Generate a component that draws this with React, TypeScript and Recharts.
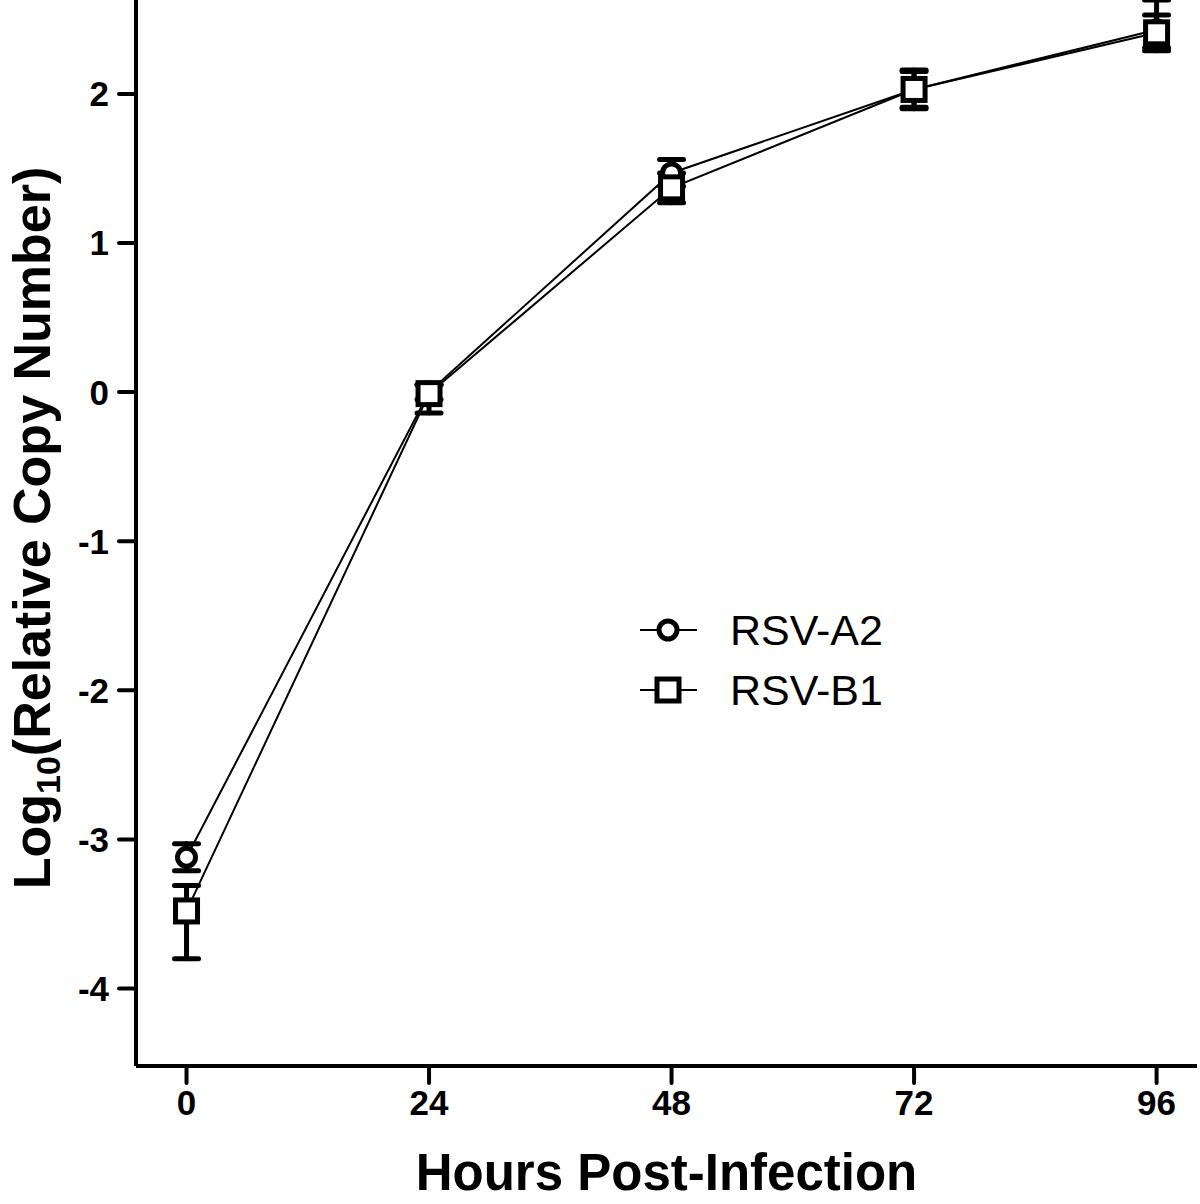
import React from 'react';
import { LineChart, Line, XAxis, YAxis, ErrorBar, Legend } from 'recharts';

const hours = [0, 24, 48, 72, 96];
const rsvA2 = [-3.12, 0.0, 1.47, 2.03, 2.43];
const rsvA2Err = [[0.09, 0.09], [0.05, 0.05], [0.09, 0.09], [0.13, 0.13], [0.12, 0.2]];
const rsvB1 = [-3.48, -0.01, 1.37, 2.03, 2.41];
const rsvB1Err = [[0.32, 0.17], [0.13, 0.06], [0.1, 0.1], [0.12, 0.12], [0.12, 0.12]];
const xTicks = [0, 24, 48, 72, 96];
const yTicks = [-4, -3, -2, -1, 0, 1, 2];

const data = hours.map((h, i) => ({
  hours: h,
  a2: rsvA2[i],
  a2Err: rsvA2Err[i],
  b1: rsvB1[i],
  b1Err: rsvB1Err[i],
}));

const FONT = '"Liberation Sans", Arial, Helvetica, sans-serif';

const CircleDot = (props: any) => {
  const { cx, cy, index } = props;
  return <circle key={`c-${index}`} cx={cx} cy={cy} r={9} fill="#fff" stroke="#000" strokeWidth={5} />;
};

const SquareDot = (props: any) => {
  const { cx, cy, index } = props;
  return (
    <rect key={`s-${index}`} x={cx - 11} y={cy - 11} width={22} height={22} fill="#fff" stroke="#000" strokeWidth={5} />
  );
};

const LegendBox = () => (
  <svg width={300} height={120}>
    {/* RSV-A2 */}
    <line x1={0} y1={30} x2={57} y2={30} stroke="#000" strokeWidth={2} />
    <circle cx={28} cy={30} r={9} fill="#fff" stroke="#000" strokeWidth={5} />
    <text x={90} y={30} dy="0.36em" fontFamily={FONT} fontSize={43} fill="#000">RSV-A2</text>
    {/* RSV-B1 */}
    <line x1={0} y1={90} x2={57} y2={90} stroke="#000" strokeWidth={2} />
    <rect x={17} y={79} width={22} height={22} fill="#fff" stroke="#000" strokeWidth={5} />
    <text x={90} y={90} dy="0.36em" fontFamily={FONT} fontSize={43} fill="#000">RSV-B1</text>
  </svg>
);

const YTitle = () => (
  <text
    transform="translate(50, 528) rotate(-90)"
    textAnchor="middle"
    fontFamily={FONT}
    fontWeight="bold"
    fontSize={52}
    fill="#000"
  >
    Log<tspan fontSize={34} dy={10}>10</tspan>
    <tspan dy={-10}>(Relative Copy Number)</tspan>
  </text>
);

export default function App() {
  return (
    <div style={{ position: 'absolute', left: 0, top: 0, width: 1200, height: 1204, background: '#fff' }}>
      <LineChart width={1200} height={1204} data={data} margin={{ top: 0, right: 3, bottom: 0, left: 0 }}>
        <XAxis
          dataKey="hours"
          type="number"
          domain={[-5, 100]}
          ticks={xTicks}
          height={138}
          axisLine={{ stroke: '#000', strokeWidth: 4 }}
          tickLine={{ stroke: '#000', strokeWidth: 4, strokeLinecap: 'round' }}
          tickSize={17}
          tickMargin={7}
          tick={{ fill: '#000', fontFamily: FONT, fontWeight: 'bold', fontSize: 35 }}
          label={{
            value: 'Hours Post-Infection',
            position: 'insideBottom',
            offset: 14,
            fill: '#000',
            fontFamily: FONT,
            fontWeight: 'bold',
            fontSize: 51,
          }}
        />
        <YAxis
          type="number"
          domain={[-4.52, 2.62]}
          ticks={yTicks}
          width={136}
          axisLine={{ stroke: '#000', strokeWidth: 4 }}
          tickLine={{ stroke: '#000', strokeWidth: 4, strokeLinecap: 'round' }}
          tickSize={17}
          tickMargin={10}
          tick={{ fill: '#000', fontFamily: FONT, fontWeight: 'bold', fontSize: 35 }}
          label={<YTitle />}
        />
        <Legend
          layout="horizontal"
          verticalAlign="middle"
          align="center"
          content={() => <LegendBox />}
          wrapperStyle={{ position: 'absolute', left: 640, top: 600, width: 300, height: 120 }}
        />
        <Line
          dataKey="a2"
          name="RSV-A2"
          type="linear"
          stroke="#000"
          strokeWidth={2}
          dot={CircleDot}
          activeDot={false}
          isAnimationActive={false}
        >
          <ErrorBar dataKey="a2Err" width={12} stroke="#000" strokeWidth={5} strokeLinecap="round" />
        </Line>
        <Line
          dataKey="b1"
          name="RSV-B1"
          type="linear"
          stroke="#000"
          strokeWidth={2}
          dot={SquareDot}
          activeDot={false}
          isAnimationActive={false}
        >
          <ErrorBar dataKey="b1Err" width={12} stroke="#000" strokeWidth={5} strokeLinecap="round" />
        </Line>
      </LineChart>
    </div>
  );
}
